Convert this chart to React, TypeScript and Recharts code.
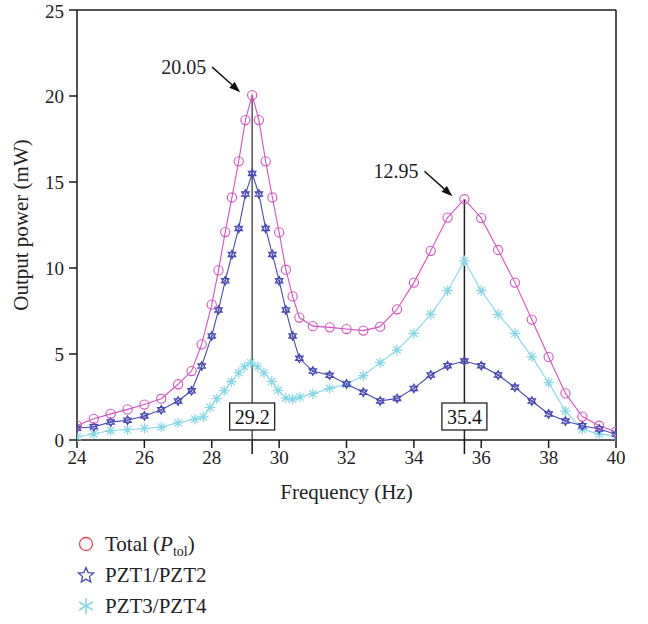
import React from 'react';
import { LineChart, Line, XAxis, YAxis, ReferenceLine, ReferenceDot, Label } from 'recharts';

// ---- data ----
const totalFreq = [24, 24.5, 25, 25.5, 26, 26.5, 27, 27.4, 27.7, 28.0, 28.2, 28.4, 28.6, 28.8, 29.0, 29.2, 29.4, 29.6, 29.8, 30.0, 30.2, 30.4, 30.6, 31.0, 31.5, 32, 32.5, 33, 33.5, 34, 34.5, 35, 35.5, 36, 36.5, 37, 37.5, 38, 38.5, 39, 39.5, 40];
const totalPower = [0.85, 1.23, 1.52, 1.78, 2.06, 2.4, 3.24, 4.01, 5.56, 7.87, 9.86, 12.09, 14.1, 16.2, 18.6, 20.05, 18.6, 16.2, 14.1, 12.07, 9.9, 8.35, 7.12, 6.62, 6.55, 6.45, 6.36, 6.59, 7.6, 9.15, 11.0, 12.93, 14.0, 12.9, 11.05, 9.15, 7.0, 4.83, 2.71, 1.36, 0.83, 0.48];
const pzt12Freq = [24, 24.5, 25, 25.5, 26, 26.5, 27, 27.4, 27.7, 28.0, 28.2, 28.4, 28.6, 28.8, 29.0, 29.2, 29.4, 29.6, 29.8, 30.0, 30.2, 30.4, 30.6, 31.0, 31.5, 32, 32.5, 33, 33.5, 34, 34.5, 35, 35.5, 36, 36.5, 37, 37.5, 38, 38.5, 39, 39.5, 40];
const pzt12Power = [0.68, 0.77, 1.04, 1.15, 1.4, 1.76, 2.27, 2.86, 4.3, 6.05, 7.56, 9.26, 10.79, 12.3, 14.3, 15.5, 14.3, 12.3, 10.79, 9.26, 7.56, 6.05, 4.75, 4.01, 3.76, 3.26, 2.77, 2.27, 2.42, 3.0, 3.78, 4.32, 4.59, 4.32, 3.78, 3.06, 2.27, 1.51, 1.1, 0.83, 0.64, 0.33];
const pzt34Freq = [24, 24.5, 25, 25.5, 26, 26.5, 27, 27.5, 27.75, 27.95, 28.15, 28.37, 28.58, 28.8, 28.97, 29.16, 29.36, 29.55, 29.78, 29.97, 30.2, 30.4, 30.62, 31.0, 31.5, 32, 32.5, 33, 33.5, 34, 34.5, 35, 35.5, 36, 36.5, 37, 37.5, 38, 38.5, 39, 39.5, 40];
const pzt34Power = [0.19, 0.36, 0.55, 0.6, 0.67, 0.75, 1.0, 1.21, 1.35, 1.9, 2.4, 2.87, 3.39, 3.91, 4.26, 4.49, 4.26, 3.91, 3.4, 2.88, 2.44, 2.38, 2.5, 2.69, 3.0, 3.24, 3.74, 4.5, 5.23, 6.2, 7.3, 8.68, 10.42, 8.68, 7.3, 6.2, 4.85, 3.33, 1.68, 0.62, 0.34, 0.24];

const xTicks = [24, 26, 28, 30, 32, 34, 36, 38, 40];
const yTicks = [0, 5, 10, 15, 20, 25];
const xDomain = [24, 40];
const yDomain = [0, 25];

const peakFreqs = [29.2, 35.5];
const peakValues = [20.05, 14.0];
const peakTexts = ['20.05', '12.95'];
const peakBoxTexts = ['29.2', '35.4'];

const seriesNames = ['Total', 'PZT1/PZT2', 'PZT3/PZT4'];

// ---- styling ----
const FONT = 'Liberation Serif, Times New Roman, Tinos, serif';
const C_TOTAL = '#d452c4';
const C_PZT12 = '#4848b6';
const C_PZT34 = '#84d8e8';
const C_LEGEND_TOTAL = '#e84a55';
const AXIS = '#1a1a1a';
const TXT = { fontFamily: FONT };

const totalData = totalFreq.map((f, i) => ({ f, v: totalPower[i] }));
const pzt12Data = pzt12Freq.map((f, i) => ({ f, v: pzt12Power[i] }));
const pzt34Data = pzt34Freq.map((f, i) => ({ f, v: pzt34Power[i] }));

function hexagramPath(cx: number, cy: number, r: number) {
  const pts = (start: number) =>
    [0, 1, 2].map((k) => {
      const a = ((start + k * 120) * Math.PI) / 180;
      return `${cx + r * Math.cos(a)},${cy + r * Math.sin(a)}`;
    });
  const a = pts(-90);
  const b = pts(90);
  return `M${a[0]}L${a[1]}L${a[2]}Z M${b[0]}L${b[1]}L${b[2]}Z`;
}

function asteriskPath(cx: number, cy: number, r: number, arms: number) {
  let d = '';
  for (let k = 0; k < arms; k++) {
    const a = (-90 + (k * 360) / arms) * (Math.PI / 180);
    d += `M${cx},${cy}L${cx + r * Math.cos(a)},${cy + r * Math.sin(a)}`;
  }
  return d;
}

function starPath(cx: number, cy: number, R: number, r: number) {
  let d = '';
  for (let k = 0; k < 10; k++) {
    const rad = k % 2 === 0 ? R : r;
    const a = (-90 + k * 36) * (Math.PI / 180);
    d += `${k === 0 ? 'M' : 'L'}${cx + rad * Math.cos(a)},${cy + rad * Math.sin(a)}`;
  }
  return d + 'Z';
}

const renderCircle = (p: any) => (
  <circle key={`tc-${p.index}`} cx={p.cx} cy={p.cy} r={4.6} fill="none" stroke={C_TOTAL} strokeWidth={1.1} />
);
const renderHex = (p: any) => (
  <g key={`hx-${p.index}`}>
    <path d={hexagramPath(p.cx, p.cy, 4.4)} fill="none" stroke={C_PZT12} strokeWidth={1.1} />
    <circle cx={p.cx} cy={p.cy} r={1} fill={C_PZT12} />
  </g>
);
const renderAst = (p: any) => (
  <path key={`as-${p.index}`} d={asteriskPath(p.cx, p.cy, 5.2, 8)} fill="none" stroke={C_PZT34} strokeWidth={1.2} />
);

const peakShape = (idx: number) => (p: any) => {
  const { cx, cy } = p;
  const tipX = cx - 12;
  const tipY = cy - 3;
  const tailX = cx - 40;
  const tailY = cy - 28;
  const ang = Math.atan2(tipY - tailY, tipX - tailX);
  const L = 11;
  const W = 4;
  const bx = tipX - L * Math.cos(ang);
  const by = tipY - L * Math.sin(ang);
  const h1x = bx + W * Math.sin(ang);
  const h1y = by - W * Math.cos(ang);
  const h2x = bx - W * Math.sin(ang);
  const h2y = by + W * Math.cos(ang);
  return (
    <g>
      <line x1={tailX} y1={tailY} x2={bx} y2={by} stroke="#111" strokeWidth={1.4} />
      <path d={`M${tipX},${tipY}L${h1x},${h1y}L${h2x},${h2y}Z`} fill="#111" />
      <text x={cx - 46} y={cy - 21} textAnchor="end" style={TXT} fontSize={20} fill="#222">
        {peakTexts[idx]}
      </text>
    </g>
  );
};

const boxShape = (idx: number) => (p: any) => {
  const { cx, cy } = p;
  return (
    <g>
      <line x1={cx} y1={cy} x2={cx} y2={cy + 14} stroke="#111" strokeWidth={1.5} />
      <rect x={cx - 22.5} y={cy - 37} width={45} height={27} fill="#fff" stroke="#111" strokeWidth={1.2} />
      <text x={cx} y={cy - 16.5} textAnchor="middle" style={TXT} fontSize={20} fill="#111">
        {peakBoxTexts[idx]}
      </text>
    </g>
  );
};

export default function App() {
  return (
    <div style={{ position: 'absolute', left: 0, top: 0, width: 648, height: 624, background: '#fff', fontFamily: FONT }}>
      <LineChart width={648} height={624} margin={{ top: 10, right: 32, left: 0, bottom: 124 }} style={{ fontFamily: FONT }}>
        <XAxis
          dataKey="f"
          type="number"
          domain={xDomain}
          ticks={xTicks}
          allowDataOverflow
          height={60}
          tickSize={8}
          tickMargin={3}
          stroke={AXIS}
          axisLine={{ stroke: AXIS, strokeWidth: 1.5 }}
          tickLine={{ stroke: AXIS, strokeWidth: 1.5 }}
          tick={{ fontFamily: FONT, fontSize: 19, fill: '#222' }}
        >
          <Label
            content={(props: any) => {
              const vb = props.viewBox;
              return (
                <text x={vb.x + vb.width / 2} y={vb.y + 59} textAnchor="middle" style={TXT} fontSize={21} fill="#222">
                  Frequency (Hz)
                </text>
              );
            }}
          />
        </XAxis>
        <YAxis
          type="number"
          domain={yDomain}
          ticks={yTicks}
          width={77}
          tickSize={8}
          tickMargin={5}
          axisLine={{ stroke: AXIS, strokeWidth: 1.5 }}
          tickLine={{ stroke: AXIS, strokeWidth: 1.5 }}
          tick={{ fontFamily: FONT, fontSize: 19, fill: '#222' }}
        >
          <Label
            content={(props: any) => {
              const vb = props.viewBox;
              const x = vb.x + 28;
              const y = vb.y + vb.height / 2;
              return (
                <text x={x} y={y} transform={`rotate(-90, ${x}, ${y})`} textAnchor="middle" style={TXT} fontSize={21} fill="#222">
                  Output power (mW)
                </text>
              );
            }}
          />
        </YAxis>

        {/* plot frame: top and right edges */}
        <ReferenceLine y={yDomain[1]} stroke={AXIS} strokeWidth={1.5} ifOverflow="visible" />
        <ReferenceLine x={xDomain[1]} stroke={AXIS} strokeWidth={1.5} ifOverflow="visible" />

        {peakFreqs.map((f, i) => (
          <ReferenceLine
            key={`rl-${i}`}
            segment={[{ x: f, y: peakValues[i] }, { x: f, y: 0 }]}
            stroke={i === 0 ? '#555' : '#222'}
            strokeWidth={1.5}
            ifOverflow="visible"
          />
        ))}

        <Line data={pzt34Data} dataKey="v" name={seriesNames[2]} type="linear" stroke={C_PZT34} strokeWidth={1.1} dot={renderAst} isAnimationActive={false} />
        <Line data={pzt12Data} dataKey="v" name={seriesNames[1]} type="linear" stroke={C_PZT12} strokeWidth={1.1} dot={renderHex} isAnimationActive={false} />
        <Line data={totalData} dataKey="v" name={seriesNames[0]} type="linear" stroke={C_TOTAL} strokeWidth={1.1} dot={renderCircle} isAnimationActive={false} />

        {peakFreqs.map((f, i) => (
          <ReferenceDot key={`pk-${i}`} x={f} y={peakValues[i]} r={0} ifOverflow="visible" shape={peakShape(i)} />
        ))}
        {peakFreqs.map((f, i) => (
          <ReferenceDot key={`bx-${i}`} x={f} y={0} r={0} ifOverflow="visible" shape={boxShape(i)} />
        ))}
      </LineChart>

      <svg width={648} height={100} style={{ position: 'absolute', left: 0, top: 524, fontFamily: FONT }}>
        <g transform="translate(0,20)">
          <circle cx={86} cy={0} r={6.5} fill="none" stroke={C_LEGEND_TOTAL} strokeWidth={1.3} />
          <text x={105} y={7} style={TXT} fontSize={21} fill="#222">
            Total (<tspan fontStyle="italic">P</tspan>
            <tspan fontSize={14} dy={5}>tol</tspan>
            <tspan dy={-5}>)</tspan>
          </text>
        </g>
        <g transform="translate(0,51)">
          <path d={starPath(86, 0.5, 8, 3.6)} fill="none" stroke={C_PZT12} strokeWidth={1.3} />
          <text x={105} y={7} style={TXT} fontSize={21} fill="#222">
            PZT1/PZT2
          </text>
        </g>
        <g transform="translate(0,82)">
          <path d={asteriskPath(86, 0, 8, 6)} fill="none" stroke={C_PZT34} strokeWidth={1.6} />
          <text x={105} y={7} style={TXT} fontSize={21} fill="#222">
            PZT3/PZT4
          </text>
        </g>
      </svg>
    </div>
  );
}
